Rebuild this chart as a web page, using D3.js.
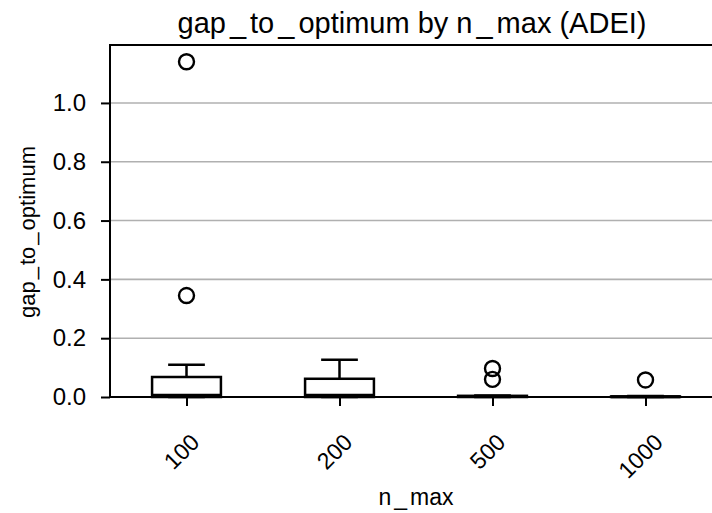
<!DOCTYPE html>
<html>
<head>
<meta charset="utf-8">
<script src="https://cdn.jsdelivr.net/npm/d3@7"></script>
<style>
  html, body { margin: 0; padding: 0; background: #fff; }
  svg { display: block; font-family: "Liberation Sans", Arial, sans-serif; }
</style>
</head>
<body>
<svg id="chart" width="712" height="513"></svg>
<script>
// n_max groups
const categories = ["100", "200", "500", "1000"];
// five-number summaries of gap_to_optimum per group
const whiskerLow = [0.0, 0.0, 0.0, 0.0];
const q1 = [0.0, 0.0, 0.0, 0.0];
const median = [0.006, 0.006, 0.002, 0.001];
const q3 = [0.068, 0.062, 0.004, 0.002];
const whiskerHigh = [0.110, 0.127, 0.005, 0.003];
// points beyond the whiskers
const outliers = [[0.345, 1.14], [], [0.060, 0.097], [0.058]];
const yTicks = [0.0, 0.2, 0.4, 0.6, 0.8, 1.0];

const svg = d3.select("#chart");
const margin = { left: 110, top: 45, right: 722, bottom: 397 };

const x = d3.scaleLinear().domain([0.5, 4.5]).range([margin.left, margin.right]);
const y = d3.scaleLinear().domain([0, 1.197]).range([margin.bottom, margin.top]);

const boxHalf = 0.225, capHalf = 0.12;

// write a label with a little air around each underscore
function spacedText(sel, str, gap) {
  const parts = str.split("_");
  parts.forEach((p, i) => {
    if (i > 0) sel.append("tspan").attr("dx", gap).text("_");
    sel.append("tspan").attr("dx", i > 0 ? gap : 0).text(p);
  });
  return sel;
}

// horizontal grid
svg.append("g").selectAll("line").data(yTicks).join("line")
  .attr("x1", margin.left).attr("x2", margin.right)
  .attr("y1", d => y(d)).attr("y2", d => y(d))
  .attr("stroke", "#b0b0b0").attr("stroke-width", 1.6);

// y axis
const yAxis = svg.append("g").attr("transform", `translate(${margin.left},0)`)
  .call(d3.axisLeft(y).tickValues(yTicks).tickFormat(d3.format(".1f")).tickSize(9).tickPadding(15));
yAxis.select(".domain").remove();
yAxis.selectAll(".tick line").attr("stroke", "#000").attr("stroke-width", 2);
yAxis.selectAll(".tick text").attr("font-size", 24).attr("fill", "#000")
  .attr("font-family", "'Liberation Sans', Arial, sans-serif");

// x axis ticks
const xAxis = svg.append("g").attr("transform", `translate(0,${margin.bottom})`)
  .call(d3.axisBottom(x).tickValues([1, 2, 3, 4]).tickFormat("").tickSize(9));
xAxis.select(".domain").remove();
xAxis.selectAll(".tick line").attr("stroke", "#000").attr("stroke-width", 2);

// rotated category labels
categories.forEach((c, i) => {
  const t = svg.append("text").text(c)
    .attr("font-size", 23).attr("text-anchor", "middle").attr("dominant-baseline", "central");
  const w = t.node().getComputedTextLength();
  const h = 17;
  const half = (w + h) / (2 * Math.SQRT2);
  const cx = x(i + 1) - 5, cy = 432 + half;
  t.attr("transform", `translate(${cx},${cy}) rotate(-45)`);
});

// boxes
const g = svg.append("g").attr("stroke", "#000").attr("stroke-width", 2.5).attr("fill", "none");
categories.forEach((c, i) => {
  const cx = x(i + 1);
  const bl = x(i + 1 - boxHalf), br = x(i + 1 + boxHalf);
  // whiskers
  g.append("line").attr("x1", cx).attr("x2", cx).attr("y1", y(q3[i])).attr("y2", y(whiskerHigh[i]));
  g.append("line").attr("x1", cx).attr("x2", cx).attr("y1", y(q1[i])).attr("y2", y(whiskerLow[i]));
  g.append("line").attr("x1", x(i + 1 - capHalf)).attr("x2", x(i + 1 + capHalf))
    .attr("y1", y(whiskerHigh[i])).attr("y2", y(whiskerHigh[i]));
  g.append("line").attr("x1", x(i + 1 - capHalf)).attr("x2", x(i + 1 + capHalf))
    .attr("y1", y(whiskerLow[i])).attr("y2", y(whiskerLow[i]));
  // box
  g.append("rect").attr("x", bl).attr("width", br - bl)
    .attr("y", y(q3[i])).attr("height", y(q1[i]) - y(q3[i])).attr("fill", "#fff");
  // median
  g.append("line").attr("x1", bl).attr("x2", br)
    .attr("y1", y(median[i])).attr("y2", y(median[i])).attr("stroke-width", 3);
  // fliers
  outliers[i].forEach(v => {
    g.append("circle").attr("cx", cx).attr("cy", y(v)).attr("r", 7.5).attr("stroke-width", 2.4);
  });
});

// spines: left, bottom, top
svg.append("line").attr("x1", margin.left).attr("x2", margin.left)
  .attr("y1", margin.top).attr("y2", margin.bottom).attr("stroke", "#000").attr("stroke-width", 2);
svg.append("line").attr("x1", margin.left - 1).attr("x2", margin.right)
  .attr("y1", margin.bottom).attr("y2", margin.bottom).attr("stroke", "#000").attr("stroke-width", 2);
svg.append("line").attr("x1", margin.left - 1).attr("x2", margin.right)
  .attr("y1", margin.top).attr("y2", margin.top).attr("stroke", "#000").attr("stroke-width", 2);

// title and axis labels
spacedText(svg.append("text").attr("x", 412).attr("y", 33)
  .attr("text-anchor", "middle").attr("font-size", 29), "gap_to_optimum by n_max (ADEI)", 4);
spacedText(svg.append("text").attr("x", 416).attr("y", 505)
  .attr("text-anchor", "middle").attr("font-size", 23), "n_max", 3);
spacedText(svg.append("text")
  .attr("transform", `translate(35,232) rotate(-90)`)
  .attr("text-anchor", "middle").attr("font-size", 22), "gap_to_optimum", 2);
</script>
</body>
</html>
